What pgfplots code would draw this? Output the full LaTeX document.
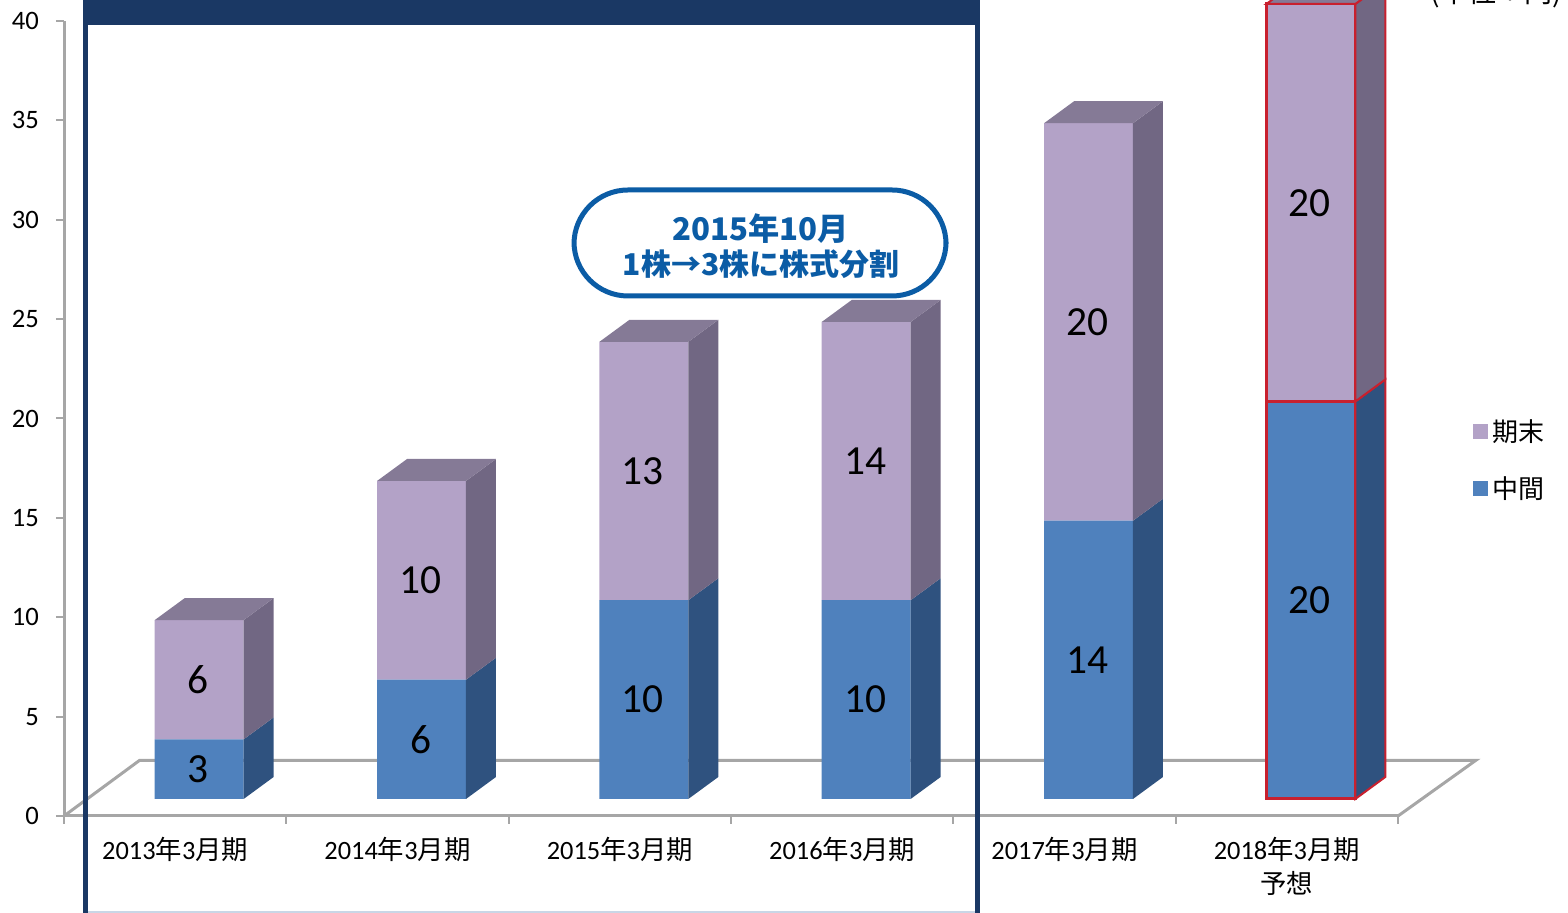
\documentclass[border=0pt]{standalone}
\usepackage{fontspec}
\setmainfont{Carlito}
\newfontfamily\cjk{Noto Sans CJK JP}
\usepackage{pgfplots}
\pgfplotsset{compat=1.18}
\definecolor{bluef}{HTML}{4F81BD}
\definecolor{blues}{HTML}{2F527F}
\definecolor{purpf}{HTML}{B3A2C7}
\definecolor{purps}{HTML}{716783}
\definecolor{purpt}{HTML}{857A96}
\definecolor{navy}{HTML}{1A3864}
\definecolor{axgrey}{HTML}{A6A6A6}
\definecolor{redb}{HTML}{C8202E}
\definecolor{calloutb}{HTML}{0B5CA5}
\definecolor{frameline}{HTML}{C9D6E6}
\pgfplotsset{
  base/.style={scale only axis,width=667pt,height=397.5pt,xmin=-0.5,xmax=5.5,ymin=0,ymax=40,clip=false,anchor=south west},
  overlayaxis/.style={base,hide axis,at={(44pt,57pt)}},
  barbase/.style={overlayaxis,ybar stacked,bar width=44.5pt},
}
% side and top faces of one bar segment
\newcommand{\sideface}[5]{% centre, y0, y1, colour, line options
  \pgfmathsetmacro{\xa}{#1+0.2}\pgfmathsetmacro{\xb}{#1+0.335}
  \pgfmathsetmacro{\ya}{#2+1.107}\pgfmathsetmacro{\yb}{#3+1.107}
  \edef\tmp{\noexpand\addplot[fill=#4,#5] coordinates {(\xa,#2) (\xb,\ya) (\xb,\yb) (\xa,#3)} --cycle;}\tmp
}
\newcommand{\topface}[4]{% centre, y, colour, line options
  \pgfmathsetmacro{\xa}{#1-0.2}\pgfmathsetmacro{\xc}{#1-0.065}
  \pgfmathsetmacro{\xd}{#1+0.2}\pgfmathsetmacro{\xb}{#1+0.335}
  \pgfmathsetmacro{\yb}{#2+1.107}
  \edef\tmp{\noexpand\addplot[fill=#3,#4] coordinates {(\xa,#2) (\xc,\yb) (\xb,\yb) (\xd,#2)} --cycle;}\tmp
}
\begin{document}
\begin{tikzpicture}
\path[use as bounding box] (0,0) rectangle (784pt,456.5pt);
% ---- axis, floor, tick labels
\begin{axis}[base,at={(32pt,48.5pt)},
  axis x line*=bottom, axis y line*=left,
  axis line style={axgrey,line width=1.5pt,-},
  xtick={0,1,2,3,4,5},
  xticklabels={2013{\cjk 年}3{\cjk 月期},2014{\cjk 年}3{\cjk 月期},2015{\cjk 年}3{\cjk 月期},2016{\cjk 年}3{\cjk 月期},2017{\cjk 年}3{\cjk 月期},2018{\cjk 年}3{\cjk 月期}\\{\cjk 予想}},
  minor xtick={-0.5,0.5,1.5,2.5,3.5,4.5,5.5},
  ytick={0,5,...,40},
  tick align=outside,
  major tick length=4pt, minor tick length=4pt,
  xtick style={draw=none},
  minor x tick style={draw=axgrey,line width=1pt},
  ytick style={draw=axgrey,line width=1pt},
  xticklabel style={align=center,font=\fontsize{13.2}{17}\selectfont,yshift=-3pt},
  yticklabel style={font=\fontsize{13.3}{15}\selectfont,xshift=-5pt},
  /pgf/number format/assume math mode=true,
]
\addplot[draw=axgrey,line width=1.5pt] coordinates {(-0.5,0) (-0.16,2.8) (5.85,2.8) (5.5,0)};
\end{axis}
% ---- highlight frame
\begin{scope}[x=0.5pt,y=-0.5pt,shift={(0pt,456.5pt)}]
  \fill[navy] (83,-5) rectangle (980,25);
  \fill[navy] (83,25) rectangle (88,920);
  \fill[navy] (975,25) rectangle (980,920);
  \fill[frameline] (88,911) rectangle (975,914);
\end{scope}
% ---- actual bars with legend
\begin{axis}[barbase,
  legend style={at={(1.038,0.483)},anchor=north west,draw=none,fill=none,
    row sep=12pt,font=\cjk\fontsize{13}{14}\selectfont,inner sep=0pt,
    /tikz/every even column/.append style={column sep=4pt}},
  reverse legend,
  legend image code/.code={\fill[#1] (0pt,-3.75pt) rectangle (7.5pt,3.75pt);},
]
\addplot[fill=bluef,draw=none] coordinates {(0,3) (1,6) (2,10) (3,10) (4,14)};
\addplot[fill=purpf,draw=none] coordinates {(0,6) (1,10) (2,13) (3,14) (4,20)};
\legend{中間,期末}
\end{axis}
% ---- forecast bar, red outline
\begin{axis}[barbase]
\addplot[fill=bluef,draw=redb,line width=1.5pt] coordinates {(5,20)};
\addplot[fill=purpf,draw=redb,line width=1.5pt] coordinates {(5,20)};
\end{axis}
% ---- depth faces and value labels
\begin{axis}[overlayaxis]
\sideface{0}{0}{3}{blues}{draw=none}
\sideface{0}{3}{9}{purps}{draw=none}
\topface{0}{9}{purpt}{draw=none}
\sideface{1}{0}{6}{blues}{draw=none}
\sideface{1}{6}{16}{purps}{draw=none}
\topface{1}{16}{purpt}{draw=none}
\sideface{2}{0}{10}{blues}{draw=none}
\sideface{2}{10}{23}{purps}{draw=none}
\topface{2}{23}{purpt}{draw=none}
\sideface{3}{0}{10}{blues}{draw=none}
\sideface{3}{10}{24}{purps}{draw=none}
\topface{3}{24}{purpt}{draw=none}
\sideface{4}{0}{14}{blues}{draw=none}
\sideface{4}{14}{34}{purps}{draw=none}
\topface{4}{34}{purpt}{draw=none}
\sideface{5}{0}{20}{blues}{draw=redb,line width=1pt}
\sideface{5}{20}{40}{purps}{draw=redb,line width=1pt}
\topface{5}{40}{purpt}{draw=redb,line width=1pt}
\addplot[draw=none,mark=none,nodes near coords,point meta=explicit symbolic,
  every node near coord/.append style={anchor=center,xshift=-0.5pt,text=black,font=\fontsize{20.7}{22}\selectfont}]
  table[meta=label] {
x y label
0 1.5 3
0 6 6
1 3 6
1 11 10
2 5 10
2 16.5 13
3 5 10
3 17 14
4 7 14
4 24 20
5 10 20
5 30 20
};
\end{axis}
% ---- callout and unit
\begin{scope}[x=0.5pt,y=-0.5pt,shift={(0pt,456.5pt)}]
  \draw[calloutb,fill=white,line width=2.5pt,rounded corners=27pt] (574,190) rectangle (946,296);
  \node[text=calloutb,font=\cjk\bfseries\fontsize{15.6}{15.6}\selectfont,inner sep=0pt] at (760.5,229) {2015年10月};
  \node[text=calloutb,font=\cjk\bfseries\fontsize{15}{15}\selectfont,inner sep=0pt] at (761,264) {1株→3株に株式分割};
  \node[font=\cjk\fontsize{14}{14}\selectfont,inner sep=0pt] at (1496,-7) {(単位：円)};
\end{scope}
\end{tikzpicture}
\end{document}
